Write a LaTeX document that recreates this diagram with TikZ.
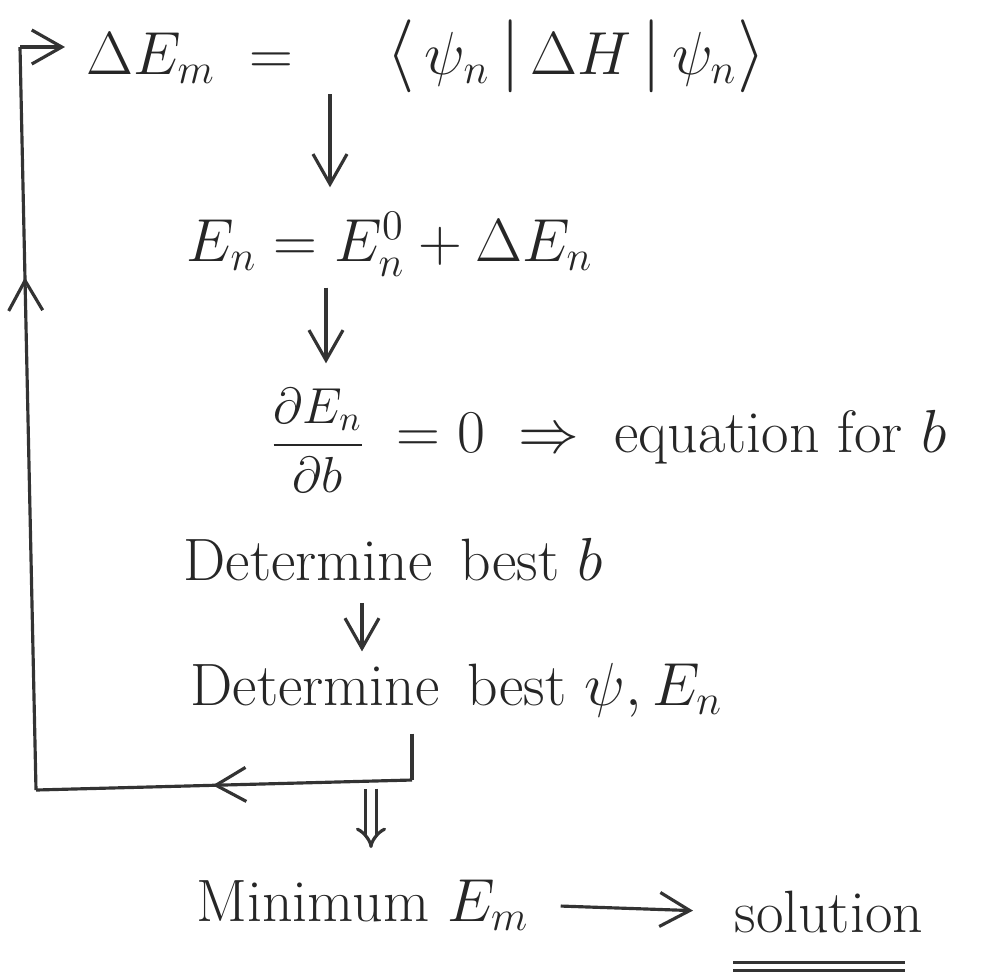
\documentclass[tikz,border=0pt]{standalone}
\usepackage{amssymb,amsmath}
\usepackage{color}
\usetikzlibrary{arrows.meta,decorations.markings}

\newcommand{\bigsym}[1]{\text{\fontsize{22}{22}\selectfont$#1$}}

\begin{document}
\begin{tikzpicture}[x=0.01cm, y=-0.01cm, >={Straight Barb[length=3mm,width=3.4mm]},
		line width=0.9pt, draw=black!80,
		every node/.style={font=\fontsize{17}{20}\selectfont, text=black!85, inner sep=0pt},
		midarr/.style={postaction={decorate}, decoration={markings, mark=at position #1 with {\arrow{>}}}}]
		\useasboundingbox (0,0) rectangle (985,975);
		% the chain of steps
		\node[anchor=west] (dE) at (85,56) {$\Delta E_m \;=\; \quad \bigsym{\langle}\, \psi_n \,\bigsym{|}\, \Delta H \,\bigsym{|}\, \psi_n \bigsym{\rangle}$};
		\node[anchor=west] (En) at (185,244) {$E_n = E_n^0 + \Delta E_n$};
		\node[anchor=east, font=\fontsize{14}{16}\selectfont] (dEdb) at (368,440) {$\dfrac{\partial E_n}{\partial b}$};
		\node[anchor=west] (eqb) at (395,437) {$= 0 \;\Rightarrow\;$ equation for $b$};
		\node[anchor=west] (bestb) at (182,560) {Determine\, best $b$};
		\node[anchor=west] (bestpsi) at (189,690) {Determine\, best $\psi, E_n$};
		\node[anchor=west] (minE) at (195,905) {Minimum $E_m$};
		\node[anchor=west] (sol) at (733,912) {solution};
		\draw[->, shorten <=0mm, shorten >=2.3mm] (dE.south -| 330,0) -- (En.north -| 330,0);
		\draw[->, shorten <=1mm, shorten >=2.3mm] (En.south -| 326,0) -- (dEdb.north -| 326,0);
		\draw[->, shorten <=2mm, shorten >=1mm] (bestb.south -| 362,0) -- (bestpsi.north -| 362,0);
		% loop back to the top
		\coordinate (rbot) at (412,780);
		\coordinate (lbot) at (36,790);
		\coordinate (ltop) at (20,47);
		\draw[shorten <=1.5mm] (bestpsi.south -| rbot) -- (rbot);
		\draw[midarr=0.53] (rbot) -- (lbot);
		\draw[midarr=0.69] (lbot) -- (ltop);
		\draw[->, shorten >=2mm] (ltop) -- (dE.west |- ltop);
		% result
		\draw[double, double distance=2pt, -{Implies}, shorten <=7mm, shorten >=3mm] (bestpsi.south -| 371,0) -- (minE.north -| 371,0);
		\draw[->, shorten <=3mm, shorten >=4mm] (minE.east) -- (sol.west);
		\draw[double, double distance=1.5pt] ([yshift=-3.2mm]sol.south west) -- ([xshift=-2mm,yshift=-3.2mm]sol.south east);
	\end{tikzpicture}
\end{document}
